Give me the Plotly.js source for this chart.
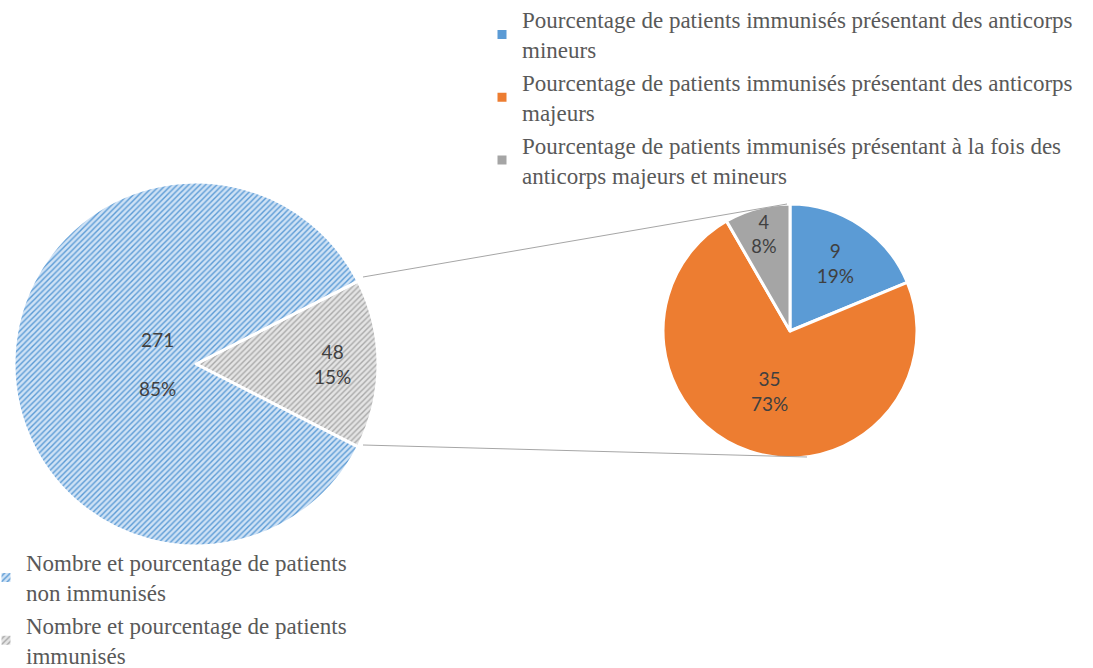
<!DOCTYPE html>
<html><head><meta charset="utf-8">
<script src="https://cdn.plot.ly/plotly-3.0.1.min.js"></script>
<style>html,body{margin:0;padding:0;background:#fff;}</style>
</head><body>
<div id="chart" style="width:1093px;height:668px;"></div>
<script>
// Main pie
const mainLabels = ["Nombre et pourcentage de patients<br>immunisés", "Nombre et pourcentage de patients<br>non immunisés"];
const mainValues = [48, 271];
const mainPercents = ["15%", "85%"];
// Detail pie (immunisés)
const subLabels = [
  "Pourcentage de patients immunisés présentant des anticorps<br>mineurs",
  "Pourcentage de patients immunisés présentant des anticorps<br>majeurs",
  "Pourcentage de patients immunisés présentant à la fois des<br>anticorps majeurs et mineurs"
];
const subValues = [9, 35, 4];
const subPercents = ["19%", "73%", "8%"];

const W = 1093, H = 668;
const px = x => x / W, py = y => (H - y) / H;

const mainDom = {x: [px(14), px(378)], y: [py(546), py(182)]};
const mainTotal = mainValues.reduce((a, b) => a + b, 0);
const mainRotation = 90 - (mainValues[0] / mainTotal) * 180;

const mainPie = {
  type: 'pie', values: mainValues, labels: mainLabels,
  textinfo: 'none',
  sort: false, direction: 'clockwise', rotation: mainRotation,
  domain: mainDom,
  marker: {
    colors: ['#e4e4e4', '#c7ddf2'],
    line: {color: '#ffffff', width: 3},
    pattern: {shape: ['/', '/'], fgcolor: ['#a9a9a9', '#5b9bd5'], bgcolor: ['#e4e4e4', '#cfe2f5'], size: 4, solidity: 0.35, fillmode: 'replace'}
  },
  legend: 'legend2', hoverinfo: 'label+value+percent'
};

const subPie = {
  type: 'pie', values: subValues, labels: subLabels,
  text: subValues.map((v, i) => v + '<br>' + subPercents[i]),
  textinfo: 'text', textposition: 'inside', insidetextorientation: 'horizontal',
  sort: false, direction: 'clockwise', rotation: 0,
  domain: {x: [px(663), px(917)], y: [py(458), py(204)]},
  marker: {colors: ['#5b9bd5', '#ed7d31', '#a5a5a5'], line: {color: '#ffffff', width: 3}},
  textfont: {family: 'Lato, "Open Sans", sans-serif', size: 19, color: '#404040'},
  legend: 'legend', hoverinfo: 'label+value+percent'
};

// data labels of the main pie, placed on each slice's mid-angle
const labelRadius = [0.75, 0.21];
const labelText = ["48<br>15%", "271<br><br>85%"];
const cx = (mainDom.x[0] + mainDom.x[1]) / 2, cy = (mainDom.y[0] + mainDom.y[1]) / 2;
const Rpx = (mainDom.x[1] - mainDom.x[0]) * W / 2;
let cum = 0;
const annotations = mainValues.map((v, i) => {
  const th = (mainRotation + 360 * (cum + v / 2) / mainTotal) * Math.PI / 180;
  cum += v;
  const r = labelRadius[i] * Rpx;
  return {
    xref: 'paper', yref: 'paper', x: cx + r * Math.sin(th) / W, y: cy + r * Math.cos(th) / H,
    text: mainValues[i] + (i === 1 ? '<br><br>' : '<br>') + mainPercents[i],
    showarrow: false, xanchor: 'center', yanchor: 'middle',
    font: {family: 'Lato, "Open Sans", sans-serif', size: 19, color: '#404040'}
  };
});

const legFont = {family: '"Liberation Serif", "Times New Roman", serif', size: 23, color: '#595959'};

const layout = {
  width: W, height: H,
  margin: {l: 0, r: 0, t: 0, b: 0, autoexpand: false},
  paper_bgcolor: '#ffffff', plot_bgcolor: '#ffffff',
  showlegend: true,
  legend: {x: px(482), y: py(-2), xanchor: 'left', yanchor: 'top', font: legFont, bgcolor: 'rgba(0,0,0,0)', traceorder: 'normal', itemclick: false},
  legend2: {x: px(-14), y: py(541), xanchor: 'left', yanchor: 'top', font: legFont, bgcolor: 'rgba(0,0,0,0)', traceorder: 'reversed', itemclick: false},
  annotations: annotations,
  shapes: [
    {type: 'line', xref: 'paper', yref: 'paper', x0: px(363), y0: py(277), x1: px(787), y1: py(204), line: {color: '#a6a6a6', width: 1}},
    {type: 'line', xref: 'paper', yref: 'paper', x0: px(363), y0: py(445), x1: px(807), y1: py(457), line: {color: '#a6a6a6', width: 1}}
  ]
};

Plotly.newPlot('chart', [mainPie, subPie], layout, {displayModeBar: false, staticPlot: true});
</script>
</body></html>
